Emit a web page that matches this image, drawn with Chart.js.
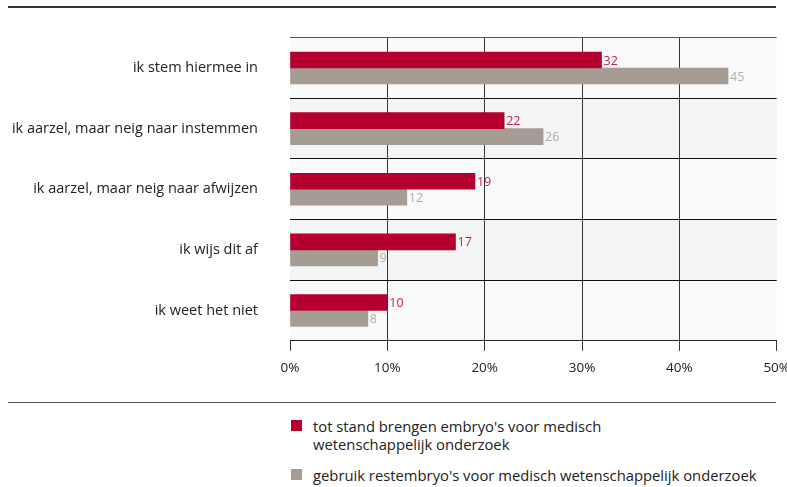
<!DOCTYPE html>
<html>
<head>
<meta charset="utf-8">
<script src="https://cdn.jsdelivr.net/npm/chart.js@4/dist/chart.umd.min.js"></script>
<style>
  html, body { margin: 0; padding: 0; background: #fff; }
  body { width: 787px; height: 487px; position: relative; overflow: hidden; font-family: "Open Sans", Lato, sans-serif; }
  #wrap { position: absolute; left: 0; top: -3px; width: 799px; height: 403px; }
  .rule { position: absolute; left: 8px; width: 768px; background: #333; }
  .legend { position: absolute; left: 291px; font-size: 14.8px; color: #222; line-height: 18px; }
  .legend .sw { position: absolute; left: 0; top: 3px; width: 11px; height: 11px; }
  .legend .tx { margin-left: 22px; white-space: nowrap; }
</style>
</head>
<body>
<div class="rule" style="top:6px;height:2px;"></div>
<div id="wrap"><canvas id="chart"></canvas></div>
<div class="rule" style="top:402px;height:1px;background:#555;"></div>
<div class="legend" style="top:417px;"><span class="sw" style="background:#b5002f"></span><div class="tx">tot stand brengen embryo's voor medisch<br>wetenschappelijk onderzoek</div></div>
<div class="legend" style="top:466px;"><span class="sw" style="background:#a59d93"></span><div class="tx">gebruik restembryo's voor medisch wetenschappelijk onderzoek</div></div>
<script>
const categories = [
  'ik stem hiermee in',
  'ik aarzel, maar neig naar instemmen',
  'ik aarzel, maar neig naar afwijzen',
  'ik wijs dit af',
  'ik weet het niet'
];
const seriesNames = [
  "tot stand brengen embryo's voor medisch wetenschappelijk onderzoek",
  "gebruik restembryo's voor medisch wetenschappelijk onderzoek"
];
const embryoValues = [32, 22, 19, 17, 10];
const restValues = [45, 26, 12, 9, 8];
const xTicks = [0, 10, 20, 30, 40, 50];

const barColors = ['#b5002f', '#a59d93'];
const labelColors = ['#c8204a', '#b3aca4'];
const rowColors = ['#f9f9f9', '#f3f4f4'];
const fontFamily = '"Open Sans", Lato, sans-serif';

// alternating row backgrounds behind the bars
const rowBands = {
  id: 'rowBands',
  beforeDraw(chart) {
    const { ctx, chartArea: a } = chart;
    const h = (a.bottom - a.top) / categories.length;
    ctx.save();
    categories.forEach((c, i) => {
      ctx.fillStyle = rowColors[i % 2];
      ctx.fillRect(a.left, a.top + i * h, a.right - a.left, h);
    });
    ctx.restore();
  }
};

// value labels at the end of each bar
const valueLabels = {
  id: 'valueLabels',
  afterDatasetsDraw(chart) {
    const { ctx } = chart;
    ctx.save();
    ctx.font = '12.5px ' + fontFamily;
    ctx.textBaseline = 'middle';
    ctx.textAlign = 'left';
    chart.data.datasets.forEach((ds, di) => {
      ctx.fillStyle = labelColors[di];
      chart.getDatasetMeta(di).data.forEach((bar, i) => {
        ctx.fillText(ds.data[i], bar.x + 2, bar.y + 1);
      });
    });
    ctx.restore();
  }
};

new Chart(document.getElementById('chart'), {
  type: 'bar',
  data: {
    labels: categories,
    datasets: [
      { label: seriesNames[0], data: embryoValues, backgroundColor: barColors[0], barThickness: 16 },
      { label: seriesNames[1], data: restValues, backgroundColor: barColors[1], barThickness: 16 }
    ]
  },
  options: {
    indexAxis: 'y',
    responsive: true,
    maintainAspectRatio: false,
    animation: false,
    layout: { padding: { top: 34, right: 0, left: 0, bottom: 15 } },
    plugins: { legend: { display: false }, tooltip: { enabled: false } },
    scales: {
      x: {
        min: 0,
        max: 50,
        afterBuildTicks(scale) { scale.ticks = xTicks.map(v => ({ value: v })); },
        grid: {
          color: c => (c.index === 0 || c.index === xTicks.length - 1) ? 'transparent' : '#333',
          tickColor: '#333',
          tickLength: 10,
          lineWidth: 1
        },
        border: { display: true, color: '#222', width: 1 },
        ticks: {
          color: '#222',
          padding: 9,
          font: { size: 13.5, family: fontFamily },
          callback: v => v + '%',
          maxRotation: 0
        }
      },
      y: {
        afterFit(scale) { scale.width = 290; },
        grid: {
          offset: true,
          drawTicks: false,
          color: c => c.index === 0 ? '#555' : '#111',
          lineWidth: 1
        },
        border: { display: false },
        ticks: {
          color: '#222',
          padding: 32,
          font: { size: 14.5, family: fontFamily }
        }
      }
    }
  },
  plugins: [rowBands, valueLabels]
});
</script>
</body>
</html>
